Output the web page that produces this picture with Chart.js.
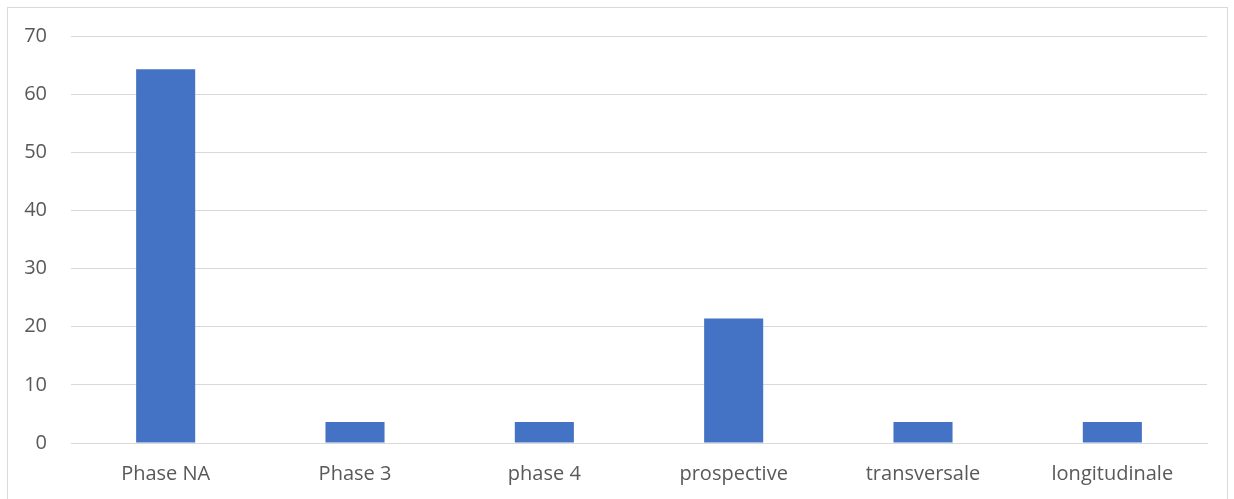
<!DOCTYPE html>
<html>
<head>
<meta charset="utf-8">
<script src="https://cdn.jsdelivr.net/npm/chart.js@4/dist/chart.umd.min.js"></script>
<style>
    html, body { margin: 0; padding: 0; background: #fff; }
    #frame {
        position: absolute; left: 7px; top: 7px;
        width: 1219px; height: 520px;
        border: 1px solid #d9d9d9;
    }
    #wrap { position: absolute; left: 0; top: 0; width: 1234px; height: 499px; }
</style>
</head>
<body>
<div id="frame"></div>
<div id="wrap"><canvas id="studyChart"></canvas></div>
<script>
// Share of studies by design (%)
const categories = ['Phase NA', 'Phase 3', 'phase 4', 'prospective', 'transversale', 'longitudinale'];
const shares = [64.3, 3.6, 3.6, 21.4, 3.6, 3.6];
const yTicks = [0, 10, 20, 30, 40, 50, 60, 70];

const labelFont = { family: "'Open Sans', 'Noto Sans', sans-serif", size: 20 };
const gridColor = '#d9d9d9';

new Chart(document.getElementById('studyChart'), {
    type: 'bar',
    data: {
        labels: categories,
        datasets: [{
            data: shares,
            backgroundColor: '#4472C4',
            borderWidth: 0,
            categoryPercentage: 1,
            barPercentage: 0.312
        }]
    },
    options: {
        responsive: true,
        maintainAspectRatio: false,
        animation: false,
        layout: { padding: { top: 36, right: 27, bottom: 0, left: 0 } },
        plugins: {
            legend: { display: false },
            tooltip: { enabled: false }
        },
        scales: {
            x: {
                grid: { display: false, drawTicks: false },
                border: { color: gridColor, width: 1 },
                ticks: { color: '#595959', font: labelFont, padding: 19, maxRotation: 0 },
                afterFit: (axis) => { axis.height = 56; }
            },
            y: {
                min: 0,
                max: 70,
                afterBuildTicks: (axis) => { axis.ticks = yTicks.map(v => ({ value: v })); },
                grid: { color: gridColor, lineWidth: 1, drawTicks: false },
                border: { display: false },
                ticks: { color: '#595959', font: labelFont, padding: 24 },
                afterFit: (axis) => { axis.width = 71; }
            }
        }
    }
});
</script>
</body>
</html>
